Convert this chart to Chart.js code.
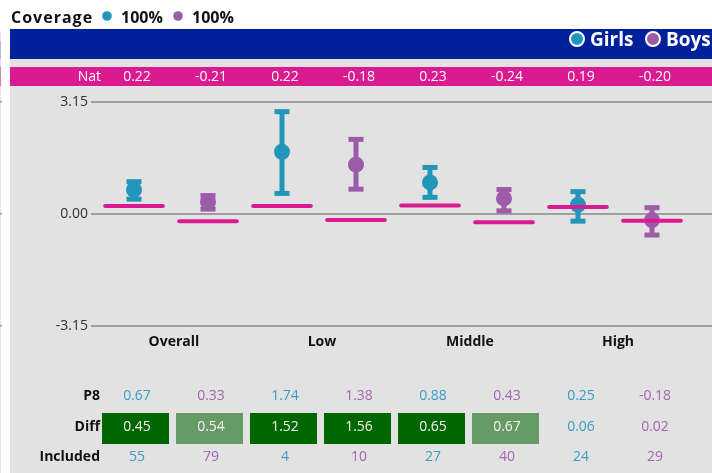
<!DOCTYPE html>
<html>
<head>
<meta charset="utf-8">
<script src="https://cdn.jsdelivr.net/npm/chart.js@4"></script>
<style>
html,body{margin:0;padding:0;background:#fff;overflow:hidden;}
canvas{display:block;}
</style>
</head>
<body>
<canvas id="c" width="712" height="473"></canvas>
<script>
// ---- data ----
const categories = ['Overall', 'Low', 'Middle', 'High'];
const seriesNames = ['Girls', 'Boys'];
const coverage = ['100%', '100%'];
const girlsP8 = [0.67, 1.74, 0.88, 0.25];
const boysP8 = [0.33, 1.38, 0.43, -0.18];
const girlsLower = [0.41, 0.57, 0.46, -0.21];
const girlsUpper = [0.90, 2.87, 1.30, 0.62];
const boysLower = [0.13, 0.69, 0.08, -0.60];
const boysUpper = [0.51, 2.09, 0.68, 0.17];
const girlsNat = [0.22, 0.22, 0.23, 0.19];
const boysNat = [-0.21, -0.18, -0.24, -0.20];
const girlsDiff = [0.45, 1.52, 0.65, 0.06];
const boysDiff = [0.54, 1.56, 0.67, 0.02];
const girlsDiffShade = [2, 2, 2, 0];
const boysDiffShade = [1, 2, 1, 0];
const girlsIncluded = [55, 4, 27, 24];
const boysIncluded = [79, 10, 40, 29];
const yTicks = [-3.15, 0, 3.15];

// ---- styles ----
const TEAL = '#2196B9', PURPLE = '#9C5CA8';
const TEAL_TXT = '#3A9CC2', PURPLE_TXT = '#A466B2';
const PINK = '#DA1A91', BLUE = '#00209C', BG = '#E2E2E2', GRID = '#9E9E9E';
const SHADES = [null, '#679B66', '#006600'];
const FONT = '"Open Sans", "Noto Sans", sans-serif';

// build per-column series
const cols = [];
categories.forEach((c, g) => {
  cols.push({ x: 2 * g, p8: girlsP8[g], lo: girlsLower[g], hi: girlsUpper[g], nat: girlsNat[g], diff: girlsDiff[g], shade: girlsDiffShade[g], inc: girlsIncluded[g], color: TEAL, txt: TEAL_TXT });
  cols.push({ x: 2 * g + 1, p8: boysP8[g], lo: boysLower[g], hi: boysUpper[g], nat: boysNat[g], diff: boysDiff[g], shade: boysDiffShade[g], inc: boysIncluded[g], color: PURPLE, txt: PURPLE_TXT });
});
const NAT_HALF = 0.39;
const natData = [];
cols.forEach(c => {
  natData.push({ x: c.x - NAT_HALF, y: c.nat });
  natData.push({ x: c.x + NAT_HALF, y: c.nat });
  natData.push({ x: c.x + 0.5, y: null });
});

const chromePlugin = {
  id: 'chrome',
  beforeDraw(chart) {
    const ctx = chart.ctx;
    ctx.save();
    ctx.fillStyle = '#fff';
    ctx.fillRect(0, 0, 712, 473);
    // left faint strip
    ctx.fillStyle = '#E4E4E4'; ctx.fillRect(0, 32, 1, 441);
    ctx.fillStyle = '#B4BCDA'; ctx.fillRect(0, 41, 1, 18);
    ctx.fillStyle = '#E27BB8'; ctx.fillRect(0, 67, 1, 19);
    ctx.fillStyle = '#A8A8A8';
    yTicks.forEach(v => { const y = chart.scales.y.getPixelForValue(v); ctx.fillRect(0, y - 1, 2, 2); });
    // panels
    ctx.fillStyle = BG; ctx.fillRect(10, 29, 702, 444);
    ctx.fillStyle = BLUE; ctx.fillRect(10, 29, 702, 30);
    ctx.fillStyle = PINK; ctx.fillRect(10, 67, 702, 19);
    // title
    ctx.fillStyle = '#111';
    ctx.textBaseline = 'alphabetic';
    ctx.textAlign = 'left';
    ctx.font = 'bold 16px ' + FONT;
    ctx.letterSpacing = '1px';
    ctx.fillText('Coverage', 11, 23);
    ctx.letterSpacing = '0px';
    const covX = [107, 178];
    [TEAL, PURPLE].forEach((col, i) => {
      ctx.fillStyle = col;
      ctx.beginPath(); ctx.arc(covX[i], 16, 4.8, 0, Math.PI * 2); ctx.fill();
      ctx.fillStyle = '#111';
      ctx.font = 'bold 16px ' + FONT;
      ctx.fillText(coverage[i], covX[i] + 14, 23);
    });
    // legend in blue band
    const legX = [577, 653];
    [TEAL, PURPLE].forEach((col, i) => {
      ctx.fillStyle = col;
      ctx.strokeStyle = '#fff';
      ctx.lineWidth = 2;
      ctx.beginPath(); ctx.arc(legX[i], 39, 7, 0, Math.PI * 2); ctx.fill(); ctx.stroke();
      ctx.fillStyle = '#fff';
      ctx.font = 'bold 19px ' + FONT;
      ctx.fillText(seriesNames[i], legX[i] + 13, 45.5);
    });
    // Nat row
    const xs = chart.scales.x;
    ctx.font = '14px ' + FONT;
    ctx.fillStyle = '#fff';
    ctx.textBaseline = 'middle';
    ctx.textAlign = 'right';
    ctx.fillText('Nat', 101, 77);
    ctx.textAlign = 'center';
    cols.forEach(c => ctx.fillText(c.nat.toFixed(2), xs.getPixelForValue(c.x) + 3, 77));
    ctx.restore();
  },
  beforeDatasetsDraw(chart) {
    const ctx = chart.ctx, xs = chart.scales.x, ys = chart.scales.y;
    ctx.save();
    cols.forEach(c => {
      const x = xs.getPixelForValue(c.x);
      const yl = ys.getPixelForValue(c.lo), yh = ys.getPixelForValue(c.hi);
      ctx.fillStyle = c.color;
      ctx.fillRect(x - 2.5, yh, 5, yl - yh);
      ctx.fillRect(x - 7.5, yh - 2.5, 15, 5);
      ctx.fillRect(x - 7.5, yl - 2.5, 15, 5);
    });
    ctx.restore();
  },
  afterDraw(chart) {
    const ctx = chart.ctx, xs = chart.scales.x;
    ctx.save();
    ctx.textBaseline = 'middle';
    // group labels
    ctx.font = 'bold 14px ' + FONT;
    ctx.fillStyle = '#111';
    ctx.textAlign = 'center';
    categories.forEach((name, g) => {
      const x = (xs.getPixelForValue(2 * g) + xs.getPixelForValue(2 * g + 1)) / 2 + 3;
      ctx.fillText(name, x, 342);
    });
    // table labels
    ctx.textAlign = 'right';
    ctx.fillText('P8', 100, 396);
    ctx.fillText('Diff', 100, 427);
    ctx.fillText('Included', 100, 457);
    ctx.font = '14px ' + FONT;
    ctx.textAlign = 'center';
    cols.forEach(c => {
      const x = xs.getPixelForValue(c.x);
      ctx.fillStyle = c.txt;
      ctx.fillText(c.p8.toFixed(2), x + 3, 396);
      ctx.fillText(String(c.inc), x + 3, 457);
      if (SHADES[c.shade]) {
        ctx.fillStyle = SHADES[c.shade];
        ctx.fillRect(Math.round(x - 32), 413, 67, 31);
        ctx.fillStyle = '#F4F4F4';
      } else {
        ctx.fillStyle = c.txt;
      }
      ctx.fillText(c.diff.toFixed(2), x + 3, 427);
    });
    ctx.restore();
  }
};

new Chart(document.getElementById('c'), {
  type: 'scatter',
  data: {
    datasets: [
      {
        type: 'line', label: 'Nat', data: natData, borderColor: PINK, borderWidth: 4,
        borderCapStyle: 'round', pointRadius: 0, spanGaps: false, order: 0, fill: false
      },
      {
        label: seriesNames[0], data: cols.filter((c, i) => i % 2 === 0).map(c => ({ x: c.x, y: c.p8 })),
        backgroundColor: TEAL, borderWidth: 0, pointRadius: 8, order: 1
      },
      {
        label: seriesNames[1], data: cols.filter((c, i) => i % 2 === 1).map(c => ({ x: c.x, y: c.p8 })),
        backgroundColor: PURPLE, borderWidth: 0, pointRadius: 8, order: 1
      }
    ]
  },
  options: {
    responsive: false,
    animation: false,
    events: [],
    layout: { autoPadding: false, padding: { top: 101.7, bottom: 147.3, left: 0, right: 0 } },
    plugins: { legend: { display: false }, tooltip: { enabled: false } },
    scales: {
      x: { type: 'linear', display: false, min: -0.581, max: 7.811 },
      y: {
        min: yTicks[0], max: yTicks[yTicks.length - 1],
        afterBuildTicks: s => { s.ticks = yTicks.map(v => ({ value: v })); },
        afterFit: s => { s.width = 91; },
        border: { display: false },
        grid: { color: GRID, lineWidth: 2, drawTicks: false },
        ticks: {
          padding: 3, color: '#333', font: { family: FONT, size: 14 },
          callback: v => Number(v).toFixed(2)
        }
      }
    }
  },
  plugins: [chromePlugin]
});
</script>
</body>
</html>
